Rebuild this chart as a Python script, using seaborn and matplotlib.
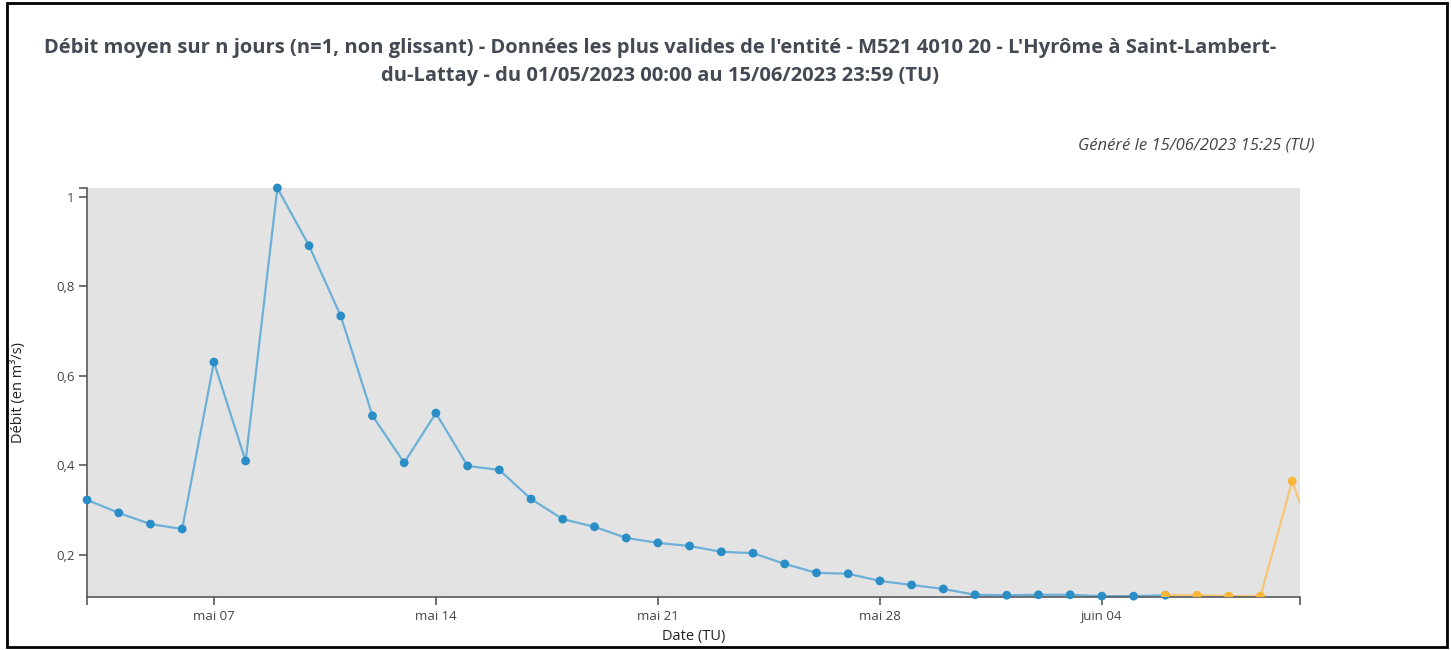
import matplotlib
matplotlib.use("Agg")
import matplotlib.pyplot as plt
import matplotlib.dates as mdates
from matplotlib.patches import Rectangle
import pandas as pd
import seaborn as sns

# Daily mean discharge (m3/s), validated series (blue)
valid_dates = pd.date_range("2023-05-03", "2023-06-06", freq="D")
valid_flow = [0.323, 0.294, 0.269, 0.258, 0.631, 0.410, 1.020, 0.891, 0.734,
              0.511, 0.406, 0.517, 0.399, 0.390, 0.325, 0.280, 0.263, 0.238,
              0.227, 0.220, 0.207, 0.204, 0.180, 0.160, 0.158, 0.142, 0.133,
              0.124, 0.111, 0.110, 0.111, 0.111, 0.108, 0.108, 0.110]

# Provisional series (orange)
prov_dates = pd.date_range("2023-06-06", "2023-06-11", freq="D")
prov_flow = [0.110, 0.110, 0.108, 0.108, 0.365, 0.170]

tick_dates = pd.to_datetime(["2023-05-07", "2023-05-14", "2023-05-21",
                             "2023-05-28", "2023-06-04"])
tick_labels = ["mai 07", "mai 14", "mai 21", "mai 28", "juin 04"]
y_ticks = [0.2, 0.4, 0.6, 0.8, 1.0]
y_labels = ["0,2", "0,4", "0,6", "0,8", "1"]

title = ("Débit moyen sur n jours (n=1, non glissant) - Données les plus valides de l'entité - "
         "M521 4010 20 - L'Hyrôme à Saint-Lambert-\ndu-Lattay - du 01/05/2023 00:00 au "
         "15/06/2023 23:59 (TU)")
subtitle = "Généré le 15/06/2023 15:25 (TU)"

valid = pd.DataFrame({"date": valid_dates, "flow": valid_flow})
prov = pd.DataFrame({"date": prov_dates, "flow": prov_flow})

sns.set_style("white")
plt.rcParams["font.family"] = ["Open Sans", "DejaVu Sans"]

fig = plt.figure(figsize=(14.51, 6.5), dpi=100)
ax = fig.add_axes([0.060, 0.0815, 0.836, 0.6293])
ax.set_facecolor("#e3e3e3")

blue_line, blue_dot = "#6cb0d8", "#2a8dc5"
orange_line, orange_dot = "#f8c574", "#fcb637"

sns.lineplot(data=valid, x="date", y="flow", ax=ax, color=blue_line, lw=1.6, zorder=2)
sns.scatterplot(data=valid, x="date", y="flow", ax=ax, color=blue_dot, s=40,
                edgecolor="none", zorder=3, clip_on=False)
sns.lineplot(data=prov, x="date", y="flow", ax=ax, color=orange_line, lw=1.6, zorder=2)
sns.scatterplot(data=prov, x="date", y="flow", ax=ax, color=orange_dot, s=40,
                edgecolor="none", zorder=3)

x0 = pd.Timestamp("2023-05-03")
x1 = pd.Timestamp("2023-06-10 06:00")
ax.set_xlim(x0, x1)
ax.set_ylim(min(valid_flow + prov_flow) - 0.002, max(valid_flow))

ax.set_xticks(tick_dates)
ax.set_xticklabels(tick_labels)
ax.set_xticks([mdates.date2num(x0), mdates.date2num(x1)], minor=True)
ax.set_yticks(y_ticks)
ax.set_yticklabels(y_labels)
ax.set_yticks([ax.get_ylim()[1]], minor=True)
ax.tick_params(axis="both", which="both", length=6, width=1.2, color="#555a60",
               labelsize=9.5, labelcolor="#444", direction="out",
               left=True, bottom=True)
ax.tick_params(axis="x", pad=3)
ax.tick_params(axis="y", pad=3)

for side in ["top", "right"]:
    ax.spines[side].set_visible(False)
for side in ["left", "bottom"]:
    ax.spines[side].set_color("#555a60")
    ax.spines[side].set_linewidth(1.2)

ax.set_xlabel("Date (TU)", fontsize=10.5, color="#222", labelpad=5)
ax.set_ylabel("Débit (en m³/s)", fontsize=10.5, color="#222")
ax.yaxis.set_label_coords(-0.050, 0.5)

fig.text(0.455, 0.905, title, ha="center", va="center", fontsize=14.5,
         fontweight="bold", color="#434a54", linespacing=1.55)
fig.text(0.906, 0.776, subtitle, ha="right", va="center", fontsize=12,
         style="italic", color="#444")

fig.patches.append(Rectangle((0.0045, 0.005), 0.9925, 0.99, transform=fig.transFigure,
                             fill=False, edgecolor="black", lw=2))

fig.savefig("out.png", dpi=100)
